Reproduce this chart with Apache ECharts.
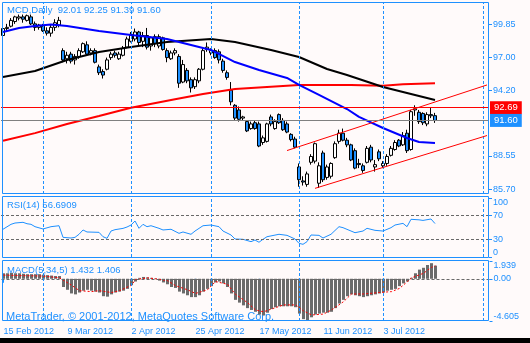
<!DOCTYPE html>
<html>
<head>
<meta charset="utf-8">
<script src="https://cdn.jsdelivr.net/npm/echarts@6/dist/echarts.min.js"></script>
<style>
html,body{margin:0;padding:0;background:#fffafa;}
#chart{width:530px;height:343px;}
</style>
</head>
<body>
<div id="chart"></div>
<script>
// ---- captions ----
const symbolCaption = 'MCD,Daily  92.01 92.25 91.39 91.60';
const rsiCaption = 'RSI(14) 56.6909';
const macdCaption = 'MACD(5,34,5) 1.432 1.406';
const copyrightCaption = 'MetaTrader, \u00a9 2001-2012, MetaQuotes Software Corp.';

// ---- daily bars, 15 Feb 2012 onwards ----
const opens = [98.9,99.5,99.7,100.1,100.4,100.5,100.2,100.5,99.9,99.6,
  99.7,99.3,99.1,99.6,99.8,97.6,96.9,97.3,96.8,97.1,
  97.5,98.1,97.4,97.6,96.2,95.8,96.0,97.0,97.4,96.9,
  97.2,97.9,98.4,98.6,99.2,98.4,98.9,98.0,98.8,98.0,
  98.7,97.6,96.9,97.4,97.1,94.9,95.9,95.1,94.5,95.0,
  96.0,97.7,97.4,97.6,97.5,96.7,95.7,94.2,92.9,92.5,
  91.8,91.5,90.9,91.4,91.3,89.7,89.8,91.9,90.9,92.1,
  91.6,91.3,90.4,90.0,87.6,86.4,86.1,88.0,88.1,86.2,
  88.8,86.7,86.8,88.4,89.8,90.5,89.9,89.5,89.0,87.9,
  87.7,88.0,89.3,87.6,88.9,87.7,87.9,88.6,89.1,89.9,
  89.5,90.5,89.1,92.5,92.3,92.2,91.3,92.1,92.01];
const highs = [99.7,99.9,100.4,100.6,100.7,100.7,100.7,100.7,100.1,99.9,
  99.9,99.6,99.8,100.3,100.5,97.8,97.5,97.5,97.3,97.8,
  98.3,98.4,97.8,97.8,96.4,96.0,97.0,97.5,97.6,97.5,
  98.0,98.8,99.2,99.5,99.3,99.2,99.55,98.8,99.0,99.0,
  98.8,97.8,97.6,97.8,97.3,96.8,96.1,95.3,95.3,96.1,
  97.8,98.3,97.8,97.8,97.7,96.9,95.9,94.9,93.0,92.8,
  92.0,91.6,91.5,91.6,91.5,90.3,91.4,92.1,91.7,92.2,
  91.8,91.5,90.5,90.2,87.9,86.8,87.2,88.7,89.7,88.0,
  89.0,87.8,88.0,89.8,90.8,90.9,90.1,89.6,89.2,88.3,
  87.9,89.4,89.5,88.2,89.1,88.1,88.7,89.4,89.9,90.0,
  90.6,90.8,92.5,92.9,92.5,92.3,92.3,92.7,92.25];
const lows = [98.5,99.2,99.6,99.9,100.2,100.0,100.1,99.8,99.3,99.4,
  99.2,98.9,98.8,99.3,99.6,96.6,96.5,96.5,96.4,96.9,
  97.4,97.2,97.2,96.5,95.5,95.2,95.9,96.8,97.0,96.8,
  97.1,97.8,98.3,98.4,98.0,97.9,97.7,97.6,97.9,97.8,
  97.6,96.6,96.8,97.2,94.4,94.8,94.8,94.0,94.3,94.8,
  95.9,97.5,97.2,96.9,96.5,95.7,95.1,92.9,91.6,91.5,
  91.6,90.6,90.8,90.8,89.3,89.5,89.7,91.1,90.8,91.3,
  90.7,90.5,89.8,89.2,85.9,86.0,85.9,87.8,87.9,85.8,
  86.3,86.5,86.6,88.3,89.6,89.8,89.3,88.1,87.4,87.5,
  87.1,87.9,88.0,87.2,88.1,87.5,87.7,88.5,89.0,89.3,
  89.4,88.8,89.0,92.0,91.3,91.2,91.1,91.8,91.39];
const closes = [99.5,99.6,100.2,100.5,100.5,100.3,100.6,99.9,99.6,99.8,
  99.3,99.1,99.6,100.0,100.2,96.8,97.2,96.7,97.1,97.6,
  98.2,97.3,97.6,96.6,95.7,95.5,96.8,97.3,97.2,97.3,
  97.8,98.6,99.0,99.2,98.3,98.9,97.9,98.7,98.2,98.8,
  97.7,97.0,97.4,97.6,94.8,96.4,95.0,94.4,95.1,96.0,
  97.6,97.9,97.6,97.0,96.8,95.9,95.3,93.2,91.8,91.7,
  91.9,90.7,91.3,90.9,89.4,90.1,91.3,91.3,91.5,91.4,
  90.8,90.6,89.95,89.3,86.5,86.3,87.0,88.5,89.6,87.7,
  86.5,87.6,87.9,89.6,90.5,89.9,89.5,88.2,87.5,87.8,
  87.3,89.2,88.2,87.8,88.3,87.9,88.5,89.2,89.7,89.4,
  90.3,89.0,92.35,92.6,91.5,91.4,92.1,92.0,91.60];

// ---- moving averages, read as [bar, price] ----
const maFast = [[0,99.2],[4,99.55],[8,99.72],[12,99.85],[16,99.72],[24,99.29],[32,98.95],
  [41,98.6],[47,98.09],[52,97.66],[58,96.62],[64,95.94],[71,95.25],[74,94.65],[79,93.79],
  [86,92.58],[89,91.9],[95,90.95],[101,90.09],[104,89.74],[108,89.66]];
const maMid = [[0,95.33],[8,95.85],[16,96.8],[24,97.48],[32,97.91],[41,98.34],[52,98.6],
  [58,98.34],[67,97.66],[74,97.05],[81,96.02],[86,95.5],[95,94.47],[101,93.96],[108,93.36]];
const maSlow = [[0,89.85],[8,90.51],[16,91.29],[24,91.98],[32,92.69],[43,93.42],[50,93.87],
  [58,94.3],[67,94.5],[74,94.65],[87,94.65],[95,94.59],[100,94.71],[108,94.79]];

// ---- trend channel and price lines ----
const channelUpper = [[71,89.01],[121,94.65]];
const channelLower = [[78,85.76],[121,90.30]];
const bidPrice = 91.60;
const askPrice = 92.69;

// ---- RSI(14), read as [bar, value] ----
const rsiValues = [[0,47],[2,55.4],[3,57.6],[5,58.8],[6,56.4],[7,55.4],[8,51.4],[10,47.5],
  [12,51.4],[14,53],[15,33.3],[17,32.2],[18,33.3],[19,38.5],[20,45.8],[21,42.4],[24,41.8],
  [25,34.4],[26,31.6],[27,44],[28,46.3],[30,48.5],[31,50.8],[32,54.2],[33,61],[34,48.6],
  [35,55.4],[36,51.4],[37,53],[39,48.6],[40,45.8],[42,47],[44,40.1],[45,42.4],[47,38.5],
  [48,44],[50,53],[52,54.2],[54,51.4],[55,44],[57,37.3],[58,30.5],[60,30],[62,26],
  [63,28.8],[64,25],[65,30],[66,34.4],[69,38.5],[71,36.7],[73,30.5],[74,23.2],[75,21.5],
  [76,26],[77,37.3],[79,36.7],[80,32.2],[82,38.5],[84,51.4],[85,49.7],[88,41.2],[90,44],
  [91,48.6],[93,45.2],[95,44],[97,49.7],[98,54.2],[100,57],[101,51.4],[102,63.9],[104,63],
  [105,62],[107,64.4],[108,56.69]];
const rsiLevels = [70, 30];

// ---- MACD(5,34,5) ----
const macdHist = [0.6,0.6,0.65,0.6,0.6,0.55,0.5,0.5,0.5,0.5,
  0.45,0.4,0.35,0.3,0.3,-0.9,-1.2,-1.6,-1.7,-1.5,
  -1.3,-1.2,-1.3,-1.4,-1.5,-1.9,-1.95,-1.7,-1.5,-1.4,
  -1.3,-1.1,-0.7,-0.3,0.1,0.2,0.15,0.1,0.05,-0.2,
  -0.4,-0.6,-0.9,-1.0,-1.4,-1.6,-1.8,-2.0,-2.0,-1.8,
  -1.4,-1.1,-0.8,-0.4,-0.3,-0.5,-0.9,-1.6,-2.3,-2.6,
  -2.9,-3.2,-3.4,-3.6,-3.9,-4.0,-3.7,-3.3,-3.1,-3.0,
  -3.0,-3.0,-3.0,-3.1,-3.8,-4.4,-4.605,-4.2,-3.9,-3.8,
  -3.7,-3.7,-3.6,-3.2,-2.7,-2.3,-1.9,-1.7,-1.8,-1.9,
  -2.0,-1.9,-1.8,-1.7,-1.6,-1.5,-1.3,-1.2,-1.1,-0.8,
  -0.5,-0.3,0.1,0.6,1.0,1.2,1.5,1.7,1.432];
const macdSignal = [[0,0.4],[4,0.35],[10,0.3],[14,0.1],[17,-0.7],[19,-1.3],[22,-1.4],[24,-1.3],
  [27,-1.5],[29,-1.3],[32,-0.7],[33,-0.1],[36,0.1],[38,0.0],[41,-0.2],[43,-0.75],[46,-1.2],
  [48,-1.6],[51,-1.2],[53,-0.3],[56,-0.6],[58,-1.7],[61,-2.6],[63,-3.4],[65,-3.6],[70,-2.85],
  [73,-2.85],[75,-3.5],[77,-3.95],[80,-3.85],[82,-3.4],[85,-2.5],[87,-1.66],[90,-1.66],
  [94,-1.5],[97,-1.4],[99,-1.05],[101,-0.3],[102,0.1],[105,0.6],[107,1.25],[108,1.406]];
const macdMax = 1.939;
const macdMin = -4.605;

// ---- axes ----
const slotCount = 122;                 // bars plus the empty shift area on the right
const dateTicks = ['15 Feb 2012','9 Mar 2012','2 Apr 2012','25 Apr 2012','17 May 2012','11 Jun 2012','3 Jul 2012'];
const dateTickBars = [0,16,32,48,64,80,95];
const monthStartBars = [10,32,52,74,95,120];
const priceTicks = [99.85, 97.00, 94.20, 88.55, 85.70];

const BLUE = '#1e90ff';
const FONT = 'Liberation Sans';
const slots = Array.from({length: slotCount}, (_, i) => String(i));

const chart = echarts.init(document.getElementById('chart'), null, {renderer: 'canvas'});

const sepStyle = {color: BLUE, type: [3,2], width: 1};

function hiddenX(gridIndex, extra) {
  return Object.assign({
    type: 'category', gridIndex, data: slots, boundaryGap: true,
    axisLine: {show: false}, axisTick: {show: false}, axisLabel: {show: false},
    splitLine: {show: false}
  }, extra || {});
}

function labelAxis(gridIndex, min, max, values, vAlign, fmt) {
  return {
    type: 'value', gridIndex, position: 'right', min, max,
    axisLine: {show: false},
    splitLine: {show: false},
    axisTick: {show: true, customValues: values, length: 3, lineStyle: {color: BLUE}},
    axisLabel: {
      customValues: values, color: BLUE, fontFamily: FONT, fontSize: 9,
      margin: 4, verticalAlign: vAlign, formatter: fmt
    }
  };
}

const option = {
  backgroundColor: '#fffafa',
  animation: false,
  grid: [
    {left: 1, width: 488, top: 2, height: 192},
    {left: 1, width: 488, top: 198, height: 59},
    {left: 1.5, width: 488, top: 261, height: 60}
  ],
  xAxis: [
    hiddenX(0),
    hiddenX(1),
    hiddenX(2, {
      axisTick: {
        show: true, alignWithLabel: true, length: 4,
        interval: i => dateTickBars.includes(i),
        lineStyle: {color: BLUE}
      },
      axisLabel: {
        show: true, interval: i => dateTickBars.includes(i),
        formatter: (v, i) => dateTicks[dateTickBars.indexOf(i)] || '',
        align: 'left', margin: 6, color: BLUE, fontFamily: FONT, fontSize: 9
      }
    })
  ],
  yAxis: [
    labelAxis(0, 85.275, 101.78, priceTicks, 'middle', v => v.toFixed(2)),
    labelAxis(1, 0, 100, [70, 30], 'middle', v => String(v)),
    labelAxis(1, 0, 100, [100], 'top', v => String(v)),
    labelAxis(1, 0, 100, [0], 'bottom', v => String(v)),
    labelAxis(2, macdMin, macdMax, [0], 'middle', v => v.toFixed(2)),
    labelAxis(2, macdMin, macdMax, [macdMax], 'top', v => v.toFixed(3)),
    labelAxis(2, macdMin, macdMax, [macdMin], 'bottom', v => v.toFixed(3))
  ],
  series: [
    { // month separators behind the bars
      type: 'line', xAxisIndex: 0, yAxisIndex: 0, data: [], z: 1,
      markLine: {
        symbol: ['none','none'], silent: true, animation: false, label: {show: false},
        lineStyle: sepStyle,
        data: monthStartBars.map(b => ({xAxis: b}))
      }
    },
    {
      type: 'candlestick', xAxisIndex: 0, yAxisIndex: 0, z: 3,
      barWidth: 3,
      data: opens.map((o, i) => [o, closes[i], lows[i], highs[i]]),
      itemStyle: {color: '#ffffff', color0: BLUE, borderColor: '#000', borderColor0: '#000', borderWidth: 1}
    },
    {type: 'line', xAxisIndex: 0, yAxisIndex: 0, z: 4, data: maSlow, showSymbol: false,
      lineStyle: {color: '#ff0000', width: 2}},
    {type: 'line', xAxisIndex: 0, yAxisIndex: 0, z: 4, data: maMid, showSymbol: false,
      lineStyle: {color: '#000000', width: 2}},
    {type: 'line', xAxisIndex: 0, yAxisIndex: 0, z: 4, data: maFast, showSymbol: false,
      lineStyle: {color: '#0000ff', width: 2}},
    { // channel, ask and bid lines
      type: 'line', xAxisIndex: 0, yAxisIndex: 0, data: [], z: 5,
      markLine: {
        symbol: ['none','none'], silent: true, animation: false,
        label: {show: false},
        data: [
          [{coord: channelUpper[0]}, {coord: channelUpper[1], lineStyle: {color: '#ff0000', width: 1, type: 'solid'}}],
          [{coord: channelLower[0]}, {coord: channelLower[1], lineStyle: {color: '#ff0000', width: 1, type: 'solid'}}],
          {yAxis: askPrice, lineStyle: {color: '#ff0000', width: 1, type: 'solid'},
            label: {show: true, position: 'end', distance: 1, formatter: askPrice.toFixed(2),
              backgroundColor: '#ff0000', color: '#fff', padding: [2, 4, 1, 4], fontFamily: FONT, fontSize: 9.5}},
          {yAxis: bidPrice, lineStyle: {color: '#808080', width: 1, type: 'solid'},
            label: {show: true, position: 'end', distance: 1, formatter: bidPrice.toFixed(2),
              backgroundColor: BLUE, color: '#fff', padding: [2, 4, 1, 4], fontFamily: FONT, fontSize: 9.5}}
        ]
      }
    },
    {
      type: 'line', xAxisIndex: 1, yAxisIndex: 1, data: rsiValues, showSymbol: false, z: 4,
      lineStyle: {color: BLUE, width: 1},
      markLine: {
        symbol: ['none','none'], silent: true, animation: false, label: {show: false},
        data: rsiLevels.map(l => ({yAxis: l, lineStyle: {color: '#696969', type: [3,2], width: 1}}))
          .concat(monthStartBars.map(b => ({xAxis: b, lineStyle: sepStyle})))
      }
    },
    {
      type: 'bar', xAxisIndex: 2, yAxisIndex: 4, data: macdHist, barWidth: 3, z: 3,
      itemStyle: {color: '#6b6b6b'},
      markLine: {
        symbol: ['none','none'], silent: true, animation: false, label: {show: false},
        data: [{yAxis: 0, lineStyle: {color: '#696969', type: [3,2], width: 1}}]
          .concat(monthStartBars.map(b => ({xAxis: b, lineStyle: sepStyle})))
      }
    },
    {
      type: 'line', xAxisIndex: 2, yAxisIndex: 4, data: macdSignal, showSymbol: false, z: 4,
      lineStyle: {color: '#ff0000', width: 1, type: [2,2]}
    }
  ],
  graphic: [
    {type: 'rect', shape: {x: 2.5, y: 2.5, width: 486, height: 191}, style: {fill: null, stroke: BLUE, lineWidth: 1}, z: 100, silent: true},
    {type: 'rect', shape: {x: 2.5, y: 196.5, width: 486, height: 61}, style: {fill: null, stroke: BLUE, lineWidth: 1}, z: 100, silent: true},
    {type: 'rect', shape: {x: 2.5, y: 260.5, width: 486, height: 60}, style: {fill: null, stroke: BLUE, lineWidth: 1}, z: 100, silent: true},
    {type: 'rect', shape: {x: 0, y: 338, width: 530, height: 5}, style: {fill: '#000'}, z: 100, silent: true},
    {type: 'text', left: 7, top: 5, z: 50, silent: true,
      style: {text: symbolCaption, fill: BLUE, font: '9.5px "' + FONT + '"'}},
    {type: 'text', left: 7, top: 200, z: 50, silent: true,
      style: {text: rsiCaption, fill: BLUE, font: '9.5px "' + FONT + '"'}},
    {type: 'text', left: 7, top: 265, z: 50, silent: true,
      style: {text: macdCaption, fill: BLUE, font: '9.5px "' + FONT + '"'}},
    {type: 'text', left: 6, top: 311, z: 2, silent: true,
      style: {text: copyrightCaption, fill: BLUE, font: '11px "' + FONT + '"'}}
  ]
};
chart.setOption(option);
</script>
</body>
</html>
